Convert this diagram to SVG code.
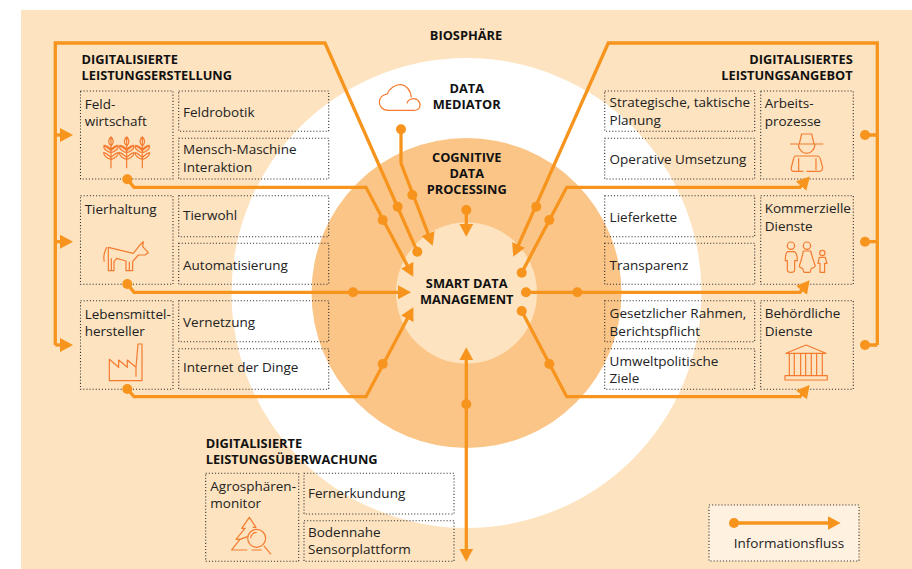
<svg xmlns="http://www.w3.org/2000/svg" width="912" height="569" viewBox="0 0 912 569">
<style>
text{font-family:"Open Sans","Noto Sans",sans-serif;font-size:13.5px;fill:#222}
text.h{font-weight:700;font-size:12.8px;fill:#111}
text.m{text-anchor:middle}
text.e{text-anchor:end}
.box{fill:none;stroke:#333;stroke-width:1.1;stroke-dasharray:1.1 2}
.f{fill:none;stroke:#f7941d;stroke-width:3.3}
.d{fill:#f7941d}
.ic{fill:none;stroke:#f47b30;stroke-width:3.6;stroke-linejoin:round}
</style>
<defs>
<marker id="a" markerUnits="userSpaceOnUse" markerWidth="14" markerHeight="14" refX="8" refY="7" orient="auto-start-reverse"><path d="M0 0L13 7L0 14Z" fill="#f7941d"/></marker>
<g id="ear">
<path d="M0 0V95M0 0C-9 10-9 20 0 28C9 20 9 10 0 0M0 42C-8 36-16 28-22 28C-22 38-10 46 0 48C10 46 22 38 22 28C16 28 8 36 0 42M0 62C-8 56-16 48-22 48C-22 58-10 66 0 68C10 66 22 58 22 48C16 48 8 56 0 62M0 38C-8 30-14 26-22 26M0 38C8 30 14 26 22 26"/>
</g>
</defs>
<rect x="21" y="10" width="891" height="559" fill="#fde3bf"/>
<circle cx="466.5" cy="293" r="235" fill="#fff"/>
<circle cx="466.5" cy="293" r="155" fill="#fbc587"/>
<circle cx="466.5" cy="293" r="70.5" fill="#fde3bf"/>

<text class="h m" x="466" y="40">BIOSPHÄRE</text>

<g id="node-feldwirtschaft">
<rect class="box" x="80.5" y="91" width="92.5" height="88"/>
<text x="84.7" y="108.7">Feld-</text><text x="84.7" y="126">wirtschaft</text>
<g class="ic" transform="translate(50 30) scale(.3333)"><use href="#ear" x="183" y="320"/><use href="#ear" x="230" y="320"/><use href="#ear" x="277" y="320"/></g>
</g>
<g id="node-feldrobotik"><rect class="box" x="178.7" y="91" width="150" height="40.3"/><text x="183" y="116.7">Feldrobotik</text></g>
<g id="node-mensch"><rect class="box" x="178.7" y="138.3" width="150" height="40.7"/><text x="183" y="154.3">Mensch-Maschine</text><text x="183" y="171.7">Interaktion</text></g>
<g id="node-tierhaltung">
<rect class="box" x="80.5" y="195.7" width="92.5" height="88.6"/>
<text x="84.7" y="214">Tierhaltung</text>
<g class="ic" transform="translate(50 190) scale(.3333)"><path d="M175 172L250 190L270 165L280 155L278 170L295 188L285 195L265 195L248 215V242H228V213L200 205L192 215V242H175ZM170 172Q158 195 163 215M238 215V242M184 205V242"/></g>
</g>
<g id="node-tierwohl"><rect class="box" x="178.7" y="195.7" width="150" height="41"/><text x="183" y="220">Tierwohl</text></g>
<g id="node-automatisierung"><rect class="box" x="178.7" y="243.3" width="150" height="41"/><text x="183" y="270">Automatisierung</text></g>
<g id="node-lebensmittel">
<rect class="box" x="80.5" y="300.7" width="92.5" height="88.6"/>
<text x="84.7" y="318.7">Lebensmittel-</text><text x="84.7" y="336">hersteller</text>
<g class="ic" transform="translate(50 190) scale(.3333)"><path d="M178 572V508L206 532V510L232 532V510L258 532L264 462H276V572ZM258 532V560"/></g>
</g>
<g id="node-vernetzung"><rect class="box" x="178.7" y="300.7" width="150" height="41"/><text x="183" y="326.7">Vernetzung</text></g>
<g id="node-internet"><rect class="box" x="178.7" y="348.7" width="150" height="40.6"/><text x="183" y="372">Internet der Dinge</text></g>
<text class="h" x="81.5" y="64.3">DIGITALISIERTE</text><text class="h" x="81.5" y="80.3">LEISTUNGSERSTELLUNG</text>

<g id="node-strategisch"><rect class="box" x="604.7" y="91" width="150" height="40.3"/><text x="609.6" y="107.3">Strategische, taktische</text><text x="609.6" y="125">Planung</text></g>
<g id="node-operativ"><rect class="box" x="604.7" y="138.3" width="150" height="40.7"/><text x="609.6" y="164">Operative Umsetzung</text></g>
<g id="node-arbeit">
<rect class="box" x="760.7" y="91" width="92.6" height="88"/>
<text x="764.7" y="108.3">Arbeits-</text><text x="764.7" y="126">prozesse</text>
<g class="ic" transform="translate(590 30) scale(.3333)"><path d="M600 342H700M628 342L635 312H665L672 342M625 342A25 28 0 0 0 675 342M618 378H680Q690 378 692 390L698 412Q698 424 688 424H650M640 424H612Q602 424 604 412L610 390Q612 378 618 378M626 385V424M678 385V420"/></g>
</g>
<g id="node-lieferkette"><rect class="box" x="604.7" y="195.7" width="150" height="41"/><text x="609.6" y="221.7">Lieferkette</text></g>
<g id="node-transparenz"><rect class="box" x="604.7" y="243.3" width="150" height="41"/><text x="609.6" y="270">Transparenz</text></g>
<g id="node-kommerziell">
<rect class="box" x="760.7" y="195.7" width="92.6" height="88.6"/>
<text x="764.7" y="213.3">Kommerzielle</text><text x="764.7" y="230.7">Dienste</text>
<g class="ic" transform="translate(590 190) scale(.3333)"><circle cx="603" cy="167" r="11"/><circle cx="651" cy="167" r="11"/><circle cx="697" cy="189" r="8"/><path d="M592 185H614Q622 190 622 212H614V240Q614 247 603 247Q592 247 592 240V212H586Q586 190 592 185ZM640 183H662Q668 205 676 228Q672 235 664 235L660 247H642L638 235Q630 235 628 228Q636 205 640 183ZM688 202H706L711 220H704V247H690V220H684Z"/></g>
</g>
<g id="node-gesetz"><rect class="box" x="604.7" y="300.7" width="150" height="41"/><text x="609.6" y="318">Gesetzlicher Rahmen,</text><text x="609.6" y="335.7">Berichtspflicht</text></g>
<g id="node-umwelt"><rect class="box" x="604.7" y="348.7" width="150" height="40.6"/><text x="609.6" y="365.7">Umweltpolitische</text><text x="609.6" y="383">Ziele</text></g>
<g id="node-behoerde">
<rect class="box" x="760.7" y="300.7" width="92.6" height="88.6"/>
<text x="764.7" y="318">Behördliche</text><text x="764.7" y="335.7">Dienste</text>
<g class="ic" transform="translate(590 190) scale(.3333)"><path d="M588 490L648 465L708 490ZM585 557H712V570H585ZM598 557V490M613 557V490M632 557V490M647 557V490M664 557V490M680 557V490M697 557V490"/></g>
</g>
<text class="h e" x="852.7" y="64.3">DIGITALISIERTES</text><text class="h e" x="852.7" y="80.3">LEISTUNGSANGEBOT</text>

<text class="h" x="205.7" y="448.3">DIGITALISIERTE</text><text class="h" x="205.7" y="464">LEISTUNGSÜBERWACHUNG</text>
<g id="node-agro">
<rect class="box" x="205.7" y="473.3" width="93" height="88"/>
<text x="210.3" y="490.7">Agrosphären-</text><text x="210.3" y="508">monitor</text>
<g class="ic" transform="translate(190 420) scale(.3333)"><path d="M172 390H125L150 358H138L165 325H155L178 292L198 322H188M185 390H215M172 350L150 358"/><circle cx="200" cy="355" r="27"/><path d="M182 355A18 18 0 0 1 200 337M222 378L243 403"/></g>
</g>
<g id="node-fern"><rect class="box" x="304" y="473.3" width="150" height="40.7"/><text x="308" y="498.3">Fernerkundung</text></g>
<g id="node-boden"><rect class="box" x="304" y="520.7" width="150" height="40.6"/><text x="308" y="536.7">Bodennahe</text><text x="308" y="554">Sensorplattform</text></g>

<g id="node-mediator">
<g class="ic" transform="translate(340 70) scale(.3333)"><path d="M222 121H145C125 121 118 105 118 97C118 82 130 74 142 72C148 55 165 44 180 44C198 44 212 60 214 82M201 100C205 85 225 82 235 92C245 105 240 121 222 121"/></g>
<text class="h m" x="466.7" y="92.7">DATA</text><text class="h m" x="466.7" y="108.7">MEDIATOR</text>
</g>
<g id="node-cognitive"><text class="h m" x="466.7" y="161.7">COGNITIVE</text><text class="h m" x="466.7" y="177.7">DATA</text><text class="h m" x="466.7" y="193.7">PROCESSING</text></g>
<g id="node-smart"><text class="h m" x="466.7" y="288.3">SMART DATA</text><text class="h m" x="466.7" y="304.3">MANAGEMENT</text></g>

<g id="node-legend">
<rect x="709" y="505" width="150" height="56" fill="#fff1e0"/><rect class="box" x="709" y="505" width="150" height="56"/>
<text x="733.7" y="548.3">Informationsfluss</text>
</g>

<g id="connectors">
<path class="f" d="M55.3 345V43H325L417.3 251.7"/>
<path class="f" d="M55.3 135H68" marker-end="url(#a)"/>
<path class="f" d="M55.3 241.7H68" marker-end="url(#a)"/>
<path class="f" d="M55.3 345H68" marker-end="url(#a)"/>
<path class="f" d="M127.3 179.3L134 187.3H366L410.9 272.3" marker-end="url(#a)"/>
<path class="f" d="M127.3 284L134 292.3H406" marker-end="url(#a)"/>
<path class="f" d="M127.3 389L134 396.7H366L411 311.7" marker-end="url(#a)"/>
<path class="f" d="M401 129.3V163.3L430.9 241" marker-end="url(#a)"/>
<path class="f" d="M466.3 210V231.7" marker-end="url(#a)"/>
<path class="f" d="M877.3 345V43H608.3L515.3 252.1" marker-end="url(#a)"/>
<path class="f" d="M865 135H877.3M865 241.7H877.3M865 345H877.3"/>
<path class="f" d="M521.7 272.7L566.7 187.3H800L806.5 180.2" marker-end="url(#a)"/>
<path class="f" d="M526 292.3H800L806.5 284.2" marker-end="url(#a)"/>
<path class="f" d="M521.7 311L566.7 396.7H800L806.5 388.8" marker-end="url(#a)"/>
<path class="f" d="M466.3 352.3V556.7" marker-start="url(#a)" marker-end="url(#a)"/>
<path class="f" d="M734 523H835.7" marker-end="url(#a)"/>
<g class="d">
<circle cx="127.3" cy="179.3" r="5"/><circle cx="127.3" cy="284" r="5"/><circle cx="127.3" cy="389" r="5"/>
<circle cx="397.7" cy="206.7" r="5"/><circle cx="417.3" cy="251.7" r="5"/><circle cx="382.7" cy="220" r="5"/><circle cx="353" cy="292.3" r="5"/><circle cx="382.7" cy="364" r="5"/>
<circle cx="401" cy="129.3" r="5"/><circle cx="412.3" cy="195" r="5"/><circle cx="466.3" cy="210" r="5"/>
<circle cx="536.3" cy="206.7" r="5"/><circle cx="549.3" cy="220" r="5"/><circle cx="521.7" cy="272.7" r="5"/><circle cx="526" cy="292.3" r="5"/><circle cx="577.3" cy="292.3" r="5"/><circle cx="521.7" cy="311" r="5"/><circle cx="549.3" cy="364" r="5"/>
<circle cx="865" cy="135" r="5"/><circle cx="865" cy="241.7" r="5"/><circle cx="865" cy="345" r="5"/>
<circle cx="466.3" cy="404.3" r="5"/><circle cx="734" cy="523" r="5"/>
</g>
</g>
</svg>
